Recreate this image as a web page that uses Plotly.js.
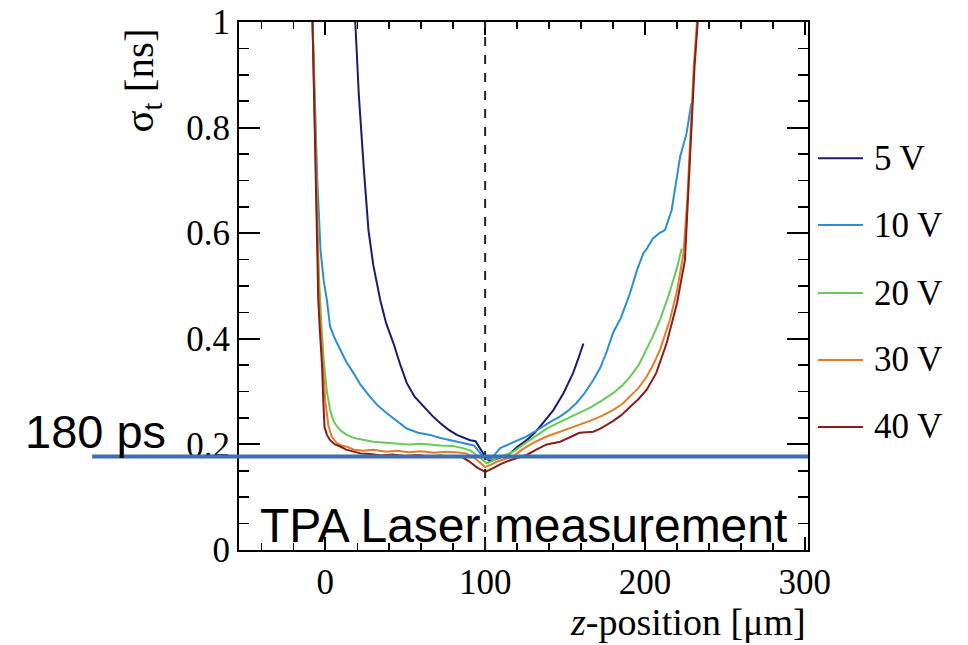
<!DOCTYPE html>
<html>
<head>
<meta charset="utf-8">
<script src="https://cdn.plot.ly/plotly-3.0.1.min.js"></script>
<style>html,body{margin:0;padding:0;background:#fff}#chart{width:968px;height:645px}</style>
</head>
<body>
<div id="chart"></div>
<script>
// Series names and colours
const seriesNames = ["5 V", "10 V", "20 V", "30 V", "40 V"];
const seriesColors = ["#1b1b72", "#2b8fd3", "#66cc55", "#e07f26", "#8c1c1c"];

// z-position [um] and sigma_t [ns] per bias voltage
const x5V = [18.75, 21, 24, 27, 30, 34.4, 38, 42.7, 47, 51, 56, 61.5, 67, 72, 77, 82.3, 86, 90.6, 94, 96, 98, 100, 103, 106, 110, 115.6, 120, 126, 131, 136, 142.7, 149, 153, 155, 158, 161.5];
const y5V = [1.0, 0.86, 0.726, 0.606, 0.54, 0.473, 0.43, 0.391, 0.35, 0.316, 0.29, 0.271, 0.254, 0.24, 0.228, 0.218, 0.213, 0.208, 0.206, 0.196, 0.186, 0.177, 0.168, 0.172, 0.176, 0.183, 0.195, 0.208, 0.222, 0.24, 0.265, 0.297, 0.322, 0.335, 0.36, 0.391];

const x10V = [-8, -6.5, -5, -3, -1, 1, 3, 6, 9.4, 13, 17.7, 22, 28, 33, 38.5, 45, 51, 58, 65.6, 72, 78, 84, 88.5, 93, 97, 100, 103, 105, 109.4, 115, 120, 126, 131, 136, 141, 147, 152, 157, 162, 167.7, 172, 176, 180, 185, 190.6, 195, 199, 201, 203, 205, 209, 212.5, 216.7, 219, 222, 226, 229];
const y10V = [1.0, 0.85, 0.7, 0.568, 0.51, 0.473, 0.423, 0.4, 0.379, 0.357, 0.335, 0.313, 0.29, 0.273, 0.259, 0.244, 0.23, 0.222, 0.218, 0.212, 0.208, 0.205, 0.202, 0.198, 0.183, 0.174, 0.172, 0.177, 0.193, 0.2, 0.207, 0.215, 0.224, 0.234, 0.243, 0.253, 0.264, 0.278, 0.296, 0.322, 0.345, 0.375, 0.411, 0.44, 0.486, 0.53, 0.562, 0.57, 0.581, 0.59, 0.6, 0.606, 0.644, 0.69, 0.745, 0.789, 0.846];

const x20V = [-8, -6, -4, -2.5, -1, 1, 3, 5, 7.3, 10, 13.5, 18, 24, 30, 38, 45, 52, 60, 65.6, 72, 80, 86, 91, 94.8, 98, 101, 104, 108, 112, 117.5, 124, 131, 138.5, 145, 152, 159, 166, 173, 180, 186, 190.6, 196, 201, 205, 209.4, 214, 217.7, 220.5, 223];
const y20V = [1.0, 0.78, 0.52, 0.43, 0.36, 0.3, 0.265, 0.245, 0.234, 0.225, 0.218, 0.212, 0.208, 0.205, 0.203, 0.202, 0.2, 0.201, 0.199, 0.198, 0.197, 0.193, 0.188, 0.18, 0.172, 0.164, 0.168, 0.175, 0.18, 0.186, 0.2, 0.215, 0.23, 0.24, 0.25, 0.259, 0.27, 0.283, 0.297, 0.312, 0.328, 0.35, 0.379, 0.405, 0.436, 0.475, 0.511, 0.54, 0.571];

const x30V = [-8, -6, -4.2, -3, -1.5, 0, 2, 4, 7, 10, 14, 18, 24, 30, 38, 45, 52, 60, 68, 75, 82, 88, 93, 97, 100, 104, 108, 112, 117.5, 123, 130, 138.5, 145, 152, 159, 166, 173, 180, 186, 190.6, 196, 201, 205, 209.4, 215.6, 220, 224, 226.5, 228.5, 230.5, 232.5];
const y30V = [1.0, 0.76, 0.5, 0.42, 0.34, 0.28, 0.235, 0.215, 0.203, 0.198, 0.195, 0.19, 0.188, 0.19, 0.186, 0.188, 0.185, 0.187, 0.184, 0.186, 0.185, 0.183, 0.175, 0.165, 0.157, 0.162, 0.168, 0.172, 0.177, 0.19, 0.203, 0.215, 0.222, 0.23, 0.237, 0.245, 0.254, 0.265, 0.277, 0.29, 0.307, 0.328, 0.35, 0.379, 0.436, 0.49, 0.56, 0.665, 0.79, 0.915, 1.0];

const x40V = [-8, -6.5, -4.4, -3.5, -2, -1.3, -0.5, 1, 3, 6, 9.4, 13, 17.5, 22, 28, 35, 42, 50, 58, 65, 72, 80, 85, 90, 95, 100, 105, 110, 115.6, 122, 126, 132, 138.5, 147, 152, 159, 167.7, 172, 180, 185, 190.6, 196, 201, 207, 213.5, 220, 225, 227, 229, 231, 233];
const y40V = [1.0, 0.75, 0.473, 0.42, 0.347, 0.284, 0.233, 0.218, 0.208, 0.2, 0.196, 0.19, 0.186, 0.183, 0.182, 0.179, 0.181, 0.178, 0.18, 0.177, 0.179, 0.176, 0.177, 0.168, 0.156, 0.148, 0.155, 0.163, 0.17, 0.177, 0.18, 0.19, 0.2, 0.205, 0.212, 0.222, 0.224, 0.23, 0.244, 0.255, 0.271, 0.286, 0.303, 0.335, 0.391, 0.467, 0.549, 0.663, 0.789, 0.915, 1.0];

const seriesX = [x5V, x10V, x20V, x30V, x40V];
const seriesY = [y5V, y10V, y20V, y30V, y40V];

// Reference lines
const refSigma = 0.177;      // "180 ps" line
const refZ = 100;            // dashed line
const refLabel = "180 ps";
const noteText = "TPA Laser measurement";

const xTickVals = [0, 100, 200, 300];
const yTickVals = [0, 0.2, 0.4, 0.6, 0.8, 1];

const serif = "Liberation Serif, Times New Roman, serif";
const sans = "Liberation Sans, Arial, sans-serif";

const traces = seriesNames.map((n, i) => ({
  type: "scatter", mode: "lines", name: n,
  x: seriesX[i], y: seriesY[i],
  line: {color: seriesColors[i], width: 2},
  showlegend: false
}));

const legendY = [0.742, 0.6155, 0.4867, 0.36, 0.233];
const shapes = [
  {type: "line", xref: "x", yref: "paper", x0: refZ, x1: refZ, y0: 0, y1: 1,
   line: {color: "#222", width: 2, dash: "dash"}, layer: "above"},
  {type: "line", xref: "paper", yref: "y", x0: -0.258, x1: 1, y0: refSigma, y1: refSigma,
   line: {color: "#3d6fb6", width: 4}, layer: "above"}
];
const annotations = [
  {text: "σ<sub>t</sub> [ns]", xref: "paper", yref: "paper", x: -0.17, y: 0.992, xanchor: "center", yanchor: "top",
   textangle: -90, showarrow: false, font: {family: serif, size: 41, color: "#000"}},
  {text: "<i>z</i>-position [μm]", xref: "paper", yref: "paper", x: 1, y: -0.137, xanchor: "right", yanchor: "middle",
   showarrow: false, font: {family: serif, size: 38, color: "#000"}},
  {text: refLabel, xref: "paper", yref: "paper", x: -0.253, y: 0.17, xanchor: "center", yanchor: "bottom",
   showarrow: false, font: {family: sans, size: 47, color: "#000"}},
  {text: noteText, xref: "paper", yref: "paper", x: 0.5, y: -0.008, xanchor: "center", yanchor: "bottom",
   showarrow: false, font: {family: sans, size: 48, color: "#000"}}
];
seriesNames.forEach((n, i) => {
  shapes.push({type: "line", xref: "paper", yref: "paper", x0: 1.0176, x1: 1.0967, y0: legendY[i], y1: legendY[i],
    line: {color: seriesColors[i], width: 2}});
  annotations.push({text: n, xref: "paper", yref: "paper", x: 1.1125, y: legendY[i], xanchor: "left", yanchor: "middle",
    showarrow: false, font: {family: serif, size: 35, color: "#000"}});
});

const axisCommon = {
  showgrid: false, zeroline: false, showline: true, linecolor: "#000", linewidth: 2,
  mirror: "allticks", ticks: "inside", tickcolor: "#000", tickwidth: 2,
  tickfont: {family: serif, size: 35, color: "#000"}
};

const layout = {
  width: 968, height: 645,
  margin: {l: 239, r: 160, t: 22, b: 95, pad: 0},
  paper_bgcolor: "#fff", plot_bgcolor: "#fff",
  showlegend: false,
  xaxis: Object.assign({}, axisCommon, {
    range: [-54, 302], tickmode: "array", tickvals: xTickVals, ticklen: 13,
    minor: {dtick: 20, tick0: 0, ticks: "inside", ticklen: 7, tickwidth: 1.5, tickcolor: "#000"}
  }),
  yaxis: Object.assign({}, axisCommon, {
    range: [0, 1], tickmode: "array", tickvals: yTickVals, ticklen: 21,
    minor: {dtick: 0.05, tick0: 0, ticks: "inside", ticklen: 10, tickwidth: 1.5, tickcolor: "#000"}
  }),
  shapes: shapes,
  annotations: annotations
};

Plotly.newPlot("chart", traces, layout, {displayModeBar: false, staticPlot: true});
</script>
</body>
</html>
